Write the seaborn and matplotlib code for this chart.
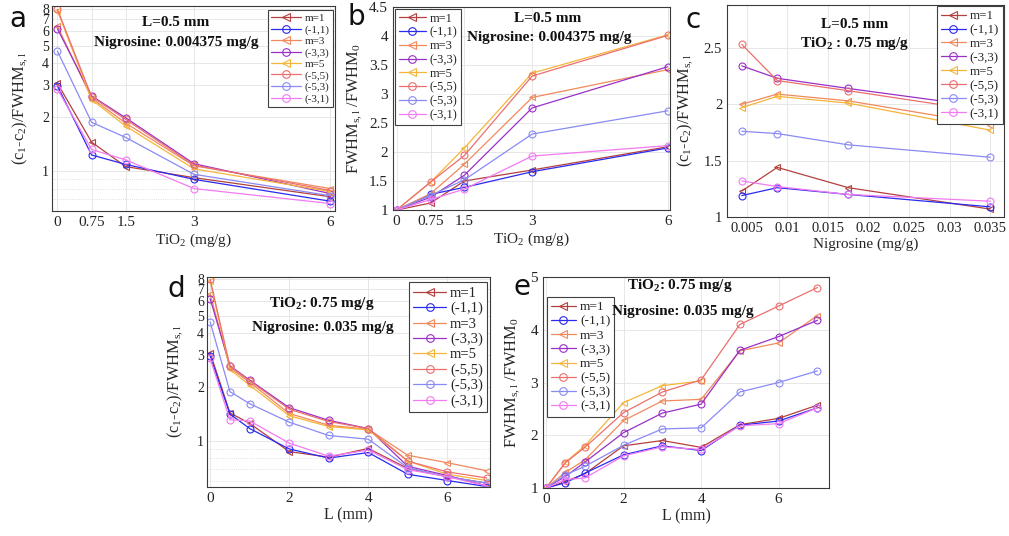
import numpy as np
import pandas as pd
import matplotlib
matplotlib.use("Agg")
import matplotlib.pyplot as plt
import seaborn as sns

# ---------------- data ----------------
series = ['m=1', '(-1,1)', 'm=3', '(-3,3)', 'm=5', '(-5,5)', '(-5,3)', '(-3,1)']
colors = ['#b3403e', '#2a2af0', '#f08a5d', '#9a30c8', '#f5b53a', '#ec6f6f', '#8a8af4', '#f27af2']
markers = ['<', 'o', '<', 'o', '<', 'o', 'o', 'o']

tio2 = [0, 0.75, 1.5, 3, 6]
nigrosine = [0.004375, 0.00875, 0.0175, 0.035]
length_mm = [0, 0.5, 1, 2, 3, 4, 5, 6, 7]

# (a) (c1-c2)/FWHM vs TiO2
a_vals = [
    [3.08, 1.45, 1.06, 0.92, 0.72],
    [2.98, 1.23, 1.09, 0.90, 0.68],
    [6.40, 2.55, 1.85, 1.07, 0.80],
    [6.20, 2.62, 1.98, 1.10, 0.75],
    [7.80, 2.50, 1.78, 1.03, 0.77],
    [7.95, 2.60, 1.94, 1.08, 0.78],
    [4.65, 1.87, 1.54, 0.96, 0.73],
    [2.86, 1.32, 1.155, 0.80, 0.66],
]
# (b) FWHM/FWHM0 vs TiO2
b_vals = [
    [1, 1.12, 1.50, 1.69, 2.09],
    [1, 1.27, 1.39, 1.66, 2.07],
    [1, 1.28, 1.79, 2.94, 3.42],
    [1, 1.22, 1.60, 2.76, 3.47],
    [1, 1.48, 2.07, 3.36, 4.02],
    [1, 1.48, 1.94, 3.31, 4.01],
    [1, 1.25, 1.52, 2.31, 2.71],
    [1, 1.18, 1.36, 1.93, 2.11],
]
# (c) (c1-c2)/FWHM vs Nigrosine
c_vals = [
    [1.23, 1.44, 1.26, 1.07],
    [1.19, 1.26, 1.20, 1.09],
    [2.00, 2.09, 2.03, 1.82],
    [2.34, 2.23, 2.14, 1.97],
    [1.97, 2.07, 2.01, 1.77],
    [2.53, 2.21, 2.12, 1.93],
    [1.76, 1.74, 1.64, 1.53],
    [1.32, 1.27, 1.20, 1.14],
]
# (d) (c1-c2)/FWHM vs L
d_vals = [
    [3.10, 1.43, 1.25, 0.87, 0.81, 0.906, 0.70, 0.63, 0.58],
    [2.97, 1.41, 1.17, 0.90, 0.80, 0.86, 0.65, 0.60, 0.555],
    [6.60, 2.55, 2.12, 1.42, 1.22, 1.16, 0.83, 0.754, 0.68],
    [6.20, 2.62, 2.18, 1.53, 1.30, 1.17, 0.72, 0.64, 0.56],
    [7.80, 2.50, 2.04, 1.38, 1.20, 1.15, 0.77, 0.65, 0.60],
    [7.95, 2.60, 2.16, 1.50, 1.28, 1.17, 0.77, 0.67, 0.62],
    [4.60, 1.88, 1.61, 1.27, 1.07, 1.02, 0.707, 0.63, 0.58],
    [2.88, 1.31, 1.29, 0.97, 0.82, 0.887, 0.69, 0.63, 0.56],
]
# (e) FWHM/FWHM0 vs L
e_vals = [
    [1, 1.12, 1.27, 1.80, 1.90, 1.77, 2.20, 2.32, 2.57],
    [1, 1.10, 1.28, 1.63, 1.80, 1.71, 2.19, 2.27, 2.52],
    [1, 1.30, 1.53, 2.28, 2.65, 2.68, 3.60, 3.75, 4.27],
    [1, 1.22, 1.49, 2.05, 2.42, 2.59, 3.61, 3.87, 4.18],
    [1, 1.49, 1.80, 2.62, 2.94, 3.03, np.nan, np.nan, np.nan],
    [1, 1.48, 1.77, 2.43, 2.82, 3.05, 4.10, 4.45, 4.80],
    [1, 1.25, 1.41, 1.81, 2.12, 2.14, 2.82, 3.00, 3.22],
    [1, 1.16, 1.19, 1.61, 1.78, 1.73, 2.18, 2.22, 2.52],
]

# ---------------- style ----------------
sns.set_style("white")
plt.rcParams['font.family'] = ['Liberation Serif', 'DejaVu Serif']
plt.rcParams['mathtext.fontset'] = 'custom'
plt.rcParams['mathtext.rm'] = 'Liberation Serif'
plt.rcParams['mathtext.it'] = 'Liberation Serif:italic'
plt.rcParams['mathtext.bf'] = 'Liberation Serif:bold'

W, H = 1009, 536
fig = plt.figure(figsize=(W / 100, H / 100), dpi=100)


def add_ax(l, r, t, b):
    return fig.add_axes([l / W, 1 - b / H, (r - l) / W, (b - t) / H])


def draw(ax, x, table):
    for name, col, mk, ys in zip(series, colors, markers, table):
        df = pd.DataFrame({'x': x, 'y': ys}).dropna()
        sns.lineplot(data=df, x='x', y='y', ax=ax, color=col, marker=mk,
                     markersize=5, markerfacecolor='none', markeredgecolor=col,
                     markeredgewidth=0.8, linewidth=0.9, label=name,
                     estimator=None, sort=False, legend=False)


def style_ax(ax, ts=11):
    for s in ax.spines.values():
        s.set_color('#3a3a3a')
        s.set_linewidth(0.8)
    ax.tick_params(direction='in', length=3, width=0.6, labelsize=ts, colors='#222222')
    ax.grid(True, which='major', color='#e3e3e3', linewidth=0.6)
    ax.set_axisbelow(True)


def legend(ax, loc, anchor, fs, hl):
    lg = ax.legend(loc=loc, bbox_to_anchor=anchor, fontsize=fs, frameon=True,
                   fancybox=False, edgecolor='#404040', framealpha=1,
                   handlelength=hl, labelspacing=0.14, borderpad=0.3,
                   handletextpad=0.3, borderaxespad=0, markerscale=1.1)
    lg.get_frame().set_linewidth(0.8)


def log_y(ax, lo, hi):
    ax.set_yscale('log')
    ax.set_ylim(lo, hi)
    ax.set_yticks([1, 2, 3, 4, 5, 6, 7, 8], labels=['1', '2', '3', '4', '5', '6', '7', '8'])
    ax.set_yticks([0.6, 0.7, 0.8, 0.9], labels=[], minor=True)
    ax.tick_params(axis='y', which='major', labelsize=10, pad=2)
    ax.tick_params(which='minor', length=0)
    ax.grid(True, which='minor', axis='y', color='#d6d6d6', linewidth=0.6, linestyle=':')


ylab_c = r'(c$_1$-c$_2$)/FWHM$_{\mathrm{s,l}}$'
ylab_f = r'FWHM$_{\mathrm{s,l}}$ /FWHM$_0$'
tio2_lab = r'TiO$_2$ (mg/g)'
YL = 11.8

# ---------------- panel a ----------------
ax = add_ax(52, 335, 6, 211)
draw(ax, tio2, a_vals)
style_ax(ax)
log_y(ax, 0.655, 8.3)
ax.set_xlim(-0.12, 6.1)
ax.set_xticks(tio2, labels=['0', '0.75', '1.5', '3', '6'])
ax.set_xlabel(tio2_lab, fontsize=11, labelpad=2)
ax.set_ylabel(ylab_c, fontsize=YL, labelpad=9)
legend(ax, 'upper right', (0.993, 0.98), 8, 2.7)

# ---------------- panel b ----------------
ax = add_ax(393, 670, 7, 210)
draw(ax, tio2, b_vals)
style_ax(ax)
ax.set_ylim(1, 4.5)
ax.set_yticks([1, 1.5, 2, 2.5, 3, 3.5, 4, 4.5], labels=['1', '1.5', '2', '2.5', '3', '3.5', '4', '4.5'])
ax.set_xlim(-0.08, 6.05)
ax.set_xticks(tio2, labels=['0', '0.75', '1.5', '3', '6'])
ax.set_xlabel(tio2_lab, fontsize=11, labelpad=2)
ax.set_ylabel(ylab_f, fontsize=YL, labelpad=4)
legend(ax, 'upper left', (0.007, 0.99), 9, 2.2)

# ---------------- panel c ----------------
ax = add_ax(727, 1004, 5, 217)
draw(ax, nigrosine, c_vals)
style_ax(ax, ts=10.5)
ax.set_ylim(1, 2.88)
ax.set_yticks([1, 1.5, 2, 2.5], labels=['1', '1.5', '2', '2.5'])
ax.set_xlim(0.00255, 0.0367)
xt = [0.005, 0.01, 0.015, 0.02, 0.025, 0.03, 0.035]
ax.set_xticks(xt, labels=['0.005', '0.01', '0.015', '0.02', '0.025', '0.03', '0.035'])
ax.set_xlabel('Nigrosine (mg/g)', fontsize=11, labelpad=2)
ax.set_ylabel(ylab_c, fontsize=YL, labelpad=6)
legend(ax, 'upper right', (0.996, 0.995), 9.4, 1.9)

# ---------------- panel d ----------------
ax = add_ax(207, 490, 277, 487)
draw(ax, length_mm, d_vals)
style_ax(ax)
log_y(ax, 0.552, 8.2)
ax.set_xlim(-0.08, 7.08)
ax.set_xticks([0, 2, 4, 6], labels=['0', '2', '4', '6'])
ax.set_xlabel('L (mm)', fontsize=11.5, labelpad=2)
ax.set_ylabel(ylab_c, fontsize=YL, labelpad=9)
legend(ax, 'upper right', (0.99, 0.975), 10.5, 2.2)

# ---------------- panel e ----------------
ax = add_ax(543, 829, 277, 488)
draw(ax, length_mm, e_vals)
style_ax(ax)
ax.set_ylim(1, 5)
ax.set_yticks([1, 2, 3, 4, 5], labels=['1', '2', '3', '4', '5'])
ax.set_xlim(-0.08, 7.3)
ax.set_xticks([0, 2, 4, 6], labels=['0', '2', '4', '6'])
ax.set_xlabel('L (mm)', fontsize=11.5, labelpad=2)
ax.set_ylabel(ylab_f, fontsize=YL, labelpad=6)
legend(ax, 'upper left', (0.013, 0.905), 9.6, 1.9)

# ---------------- annotations ----------------
def ftext(x, y, s, **kw):
    fig.text(x / W, 1 - y / H, s, ha='center', va='center', **kw)

bold = dict(fontsize=11, fontweight='bold', color='#111111')
ftext(176, 23, 'L=0.5 mm', **bold)
ftext(176, 42, 'Nigrosine: 0.004375 mg/g', **bold)
ftext(548, 18, 'L=0.5 mm', **bold)
ftext(549, 37, 'Nigrosine: 0.004375 mg/g', **bold)
ftext(855, 25, 'L=0.5 mm', **bold)
ftext(855, 43, r'TiO$_{\mathbf{2}}$ : 0.75 mg/g', **bold)
ftext(322, 303, r'TiO$_{\mathbf{2}}$: 0.75 mg/g', **bold)
ftext(323, 328, 'Nigrosine: 0.035 mg/g', **bold)
ftext(680, 286, r'TiO$_{\mathbf{2}}$: 0.75 mg/g', **bold)
ftext(683, 311, 'Nigrosine: 0.035 mg/g', **bold)

letter = dict(fontsize=20, family='DejaVu Sans', color='#111111')
ftext(18, 19, 'a', **letter)
ftext(356, 17, 'b', **letter)
ftext(693, 20, 'c', **letter)
ftext(176, 289, 'd', **letter)
ftext(522, 287, 'e', **letter)

fig.savefig('out.png', dpi=100)
